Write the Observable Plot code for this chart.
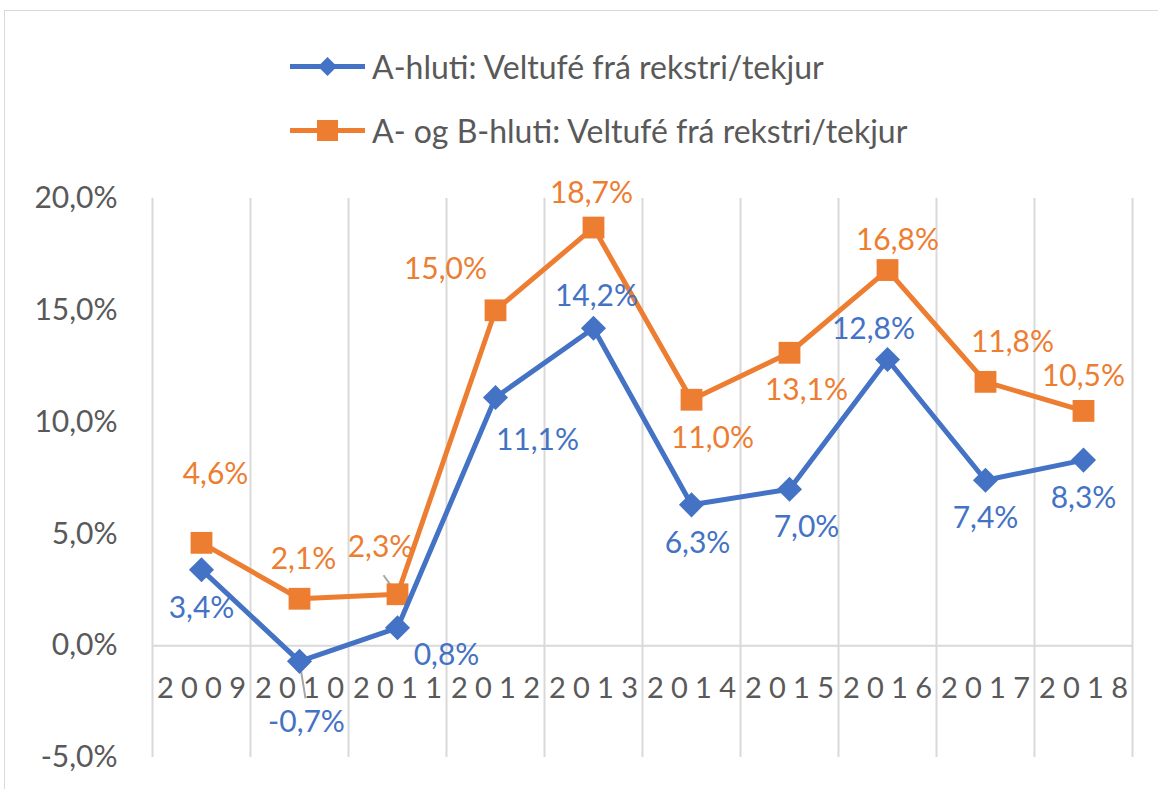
<!DOCTYPE html>
<html>
<head>
<meta charset="utf-8">
<script src="https://cdn.jsdelivr.net/npm/d3@7"></script>
<script src="https://cdn.jsdelivr.net/npm/@observablehq/plot@0.6"></script>
<style>
  html, body { margin: 0; padding: 0; background: #fff; }
  body { width: 1158px; height: 789px; position: relative; overflow: hidden; font-family: Lato, "Open Sans", sans-serif; }
  #frame { position: absolute; left: 4px; top: 10px; width: 1170px; height: 800px; border: 1.5px solid #d9d9d9; box-sizing: border-box; }
  #legend { position: absolute; left: 290px; top: 0; }
  .leg { position: absolute; left: 0; display: flex; align-items: center; white-space: nowrap; color: #595959; font-size: 32px; }
  .leg svg { margin-right: 7px; }
  #chart { position: absolute; left: 0; top: 170px; }
</style>
</head>
<body>
<div id="frame"></div>
<div id="legend"></div>
<div id="chart"></div>
<script>
// ---- data ----
const years = [2009, 2010, 2011, 2012, 2013, 2014, 2015, 2016, 2017, 2018];
const seriesA = [3.4, -0.7, 0.8, 11.1, 14.2, 6.3, 7.0, 12.8, 7.4, 8.3];
const seriesAB = [4.6, 2.1, 2.3, 15.0, 18.7, 11.0, 13.1, 16.8, 11.8, 10.5];
const nameA = "A-hluti: Veltufé frá rekstri/tekjur";
const nameAB = "A- og B-hluti: Veltufé frá rekstri/tekjur";
const yTicks = [-5, 0, 5, 10, 15, 20];

const blue = "#4472C4", orange = "#ED7D31", grey = "#595959", grid = "#d9d9d9";
const fmt = v => v.toFixed(1).replace(".", ",") + "%";

// label offsets (pixels) per point
const offA = [[0,39],[7,61],[49,28],[42,43],[3,-32],[6,39],[17,38],[-14,-30],[0,38],[0,38]];
const offAB = [[14,-68],[4,-39],[-17,-47],[-50,-41],[-2,-34],[21,39],[17,38],[10,-30],[27,-39],[0,-35]];

const dataA = years.map((y, i) => ({year: y, v: seriesA[i], i}));
const dataAB = years.map((y, i) => ({year: y, v: seriesAB[i], i}));

// legend
const legend = document.getElementById("legend");
[[nameA, blue, "diamond", 66], [nameAB, orange, "square", 130]].forEach(([name, c, sym, cy]) => {
  const row = document.createElement("div");
  row.className = "leg";
  row.style.top = (cy - 20) + "px";
  row.style.height = "40px";
  const marker = sym === "diamond"
    ? `<path d="M37.5,3 L47,12.5 L37.5,22 L28,12.5 Z" fill="${c}"/>`
    : `<rect x="27" y="2" width="21" height="21" fill="${c}"/>`;
  row.innerHTML = `<svg width="75" height="25"><line x1="0" x2="75" y1="12.5" y2="12.5" stroke="${c}" stroke-width="5"/>${marker}</svg><span>${name}</span>`;
  legend.appendChild(row);
});

const labelMarks = (data, offs, color) => data.map((d, i) =>
  Plot.text([d], {x: "year", y: "v", text: dd => fmt(dd.v), dx: offs[i][0], dy: offs[i][1],
    fill: color, fontSize: 30, fontFamily: "Lato"}));

const boundaries = d3.range(years[0] - 0.5, years[years.length - 1] + 1, 1);

const chart = Plot.plot({
  width: 1158,
  height: 619,
  marginLeft: 152,
  marginRight: 26,
  marginTop: 28,
  marginBottom: 32,
  style: {fontFamily: "Lato", background: "transparent", overflow: "visible"},
  x: {domain: [years[0] - 0.5, years[years.length - 1] + 0.5], axis: null},
  y: {domain: [-5, 20], axis: null},
  marks: [
    Plot.ruleX(boundaries, {y1: -5, y2: 20, stroke: grid, strokeWidth: 2}),
    Plot.ruleY([0], {stroke: grid, strokeWidth: 2}),
    Plot.axisY(yTicks, {tickSize: 0, tickPadding: 35, tickFormat: v => v.toFixed(1).replace(".", ",") + "%",
      fontSize: 30, fill: grey, color: grey}),
    Plot.text(years, {x: d => d, y: 0, dy: 43, text: d => String(d).split("").join("\u2009\u2009"),
      fill: grey, fontSize: 29, fontFamily: "Lato"}),
    Plot.link([{x1: 2010, y1: -0.7, x2: 2010 + 6/98, y2: -0.7 - 37/22.35}, {x1: 2011 - 0.01, y1: 2.3 + 0.05, x2: 2011 - 14/98, y2: 2.3 + 19/22.35}],
      {x1: "x1", y1: "y1", x2: "x2", y2: "y2", stroke: "#a6a6a6", strokeWidth: 2}),
    Plot.line(dataAB, {x: "year", y: "v", stroke: orange, strokeWidth: 5}),
    Plot.dot(dataAB, {x: "year", y: "v", symbol: "square", r: 12.3, fill: orange, stroke: "none"}),
    Plot.line(dataA, {x: "year", y: "v", stroke: blue, strokeWidth: 5}),
    Plot.dot(dataA, {x: "year", y: "v", symbol: "diamond2", r: 11.3, fill: blue, stroke: "none"}),
    ...labelMarks(dataA, offA, blue),
    ...labelMarks(dataAB, offAB, orange)
  ]
});
document.getElementById("chart").appendChild(chart);
</script>
</body>
</html>
